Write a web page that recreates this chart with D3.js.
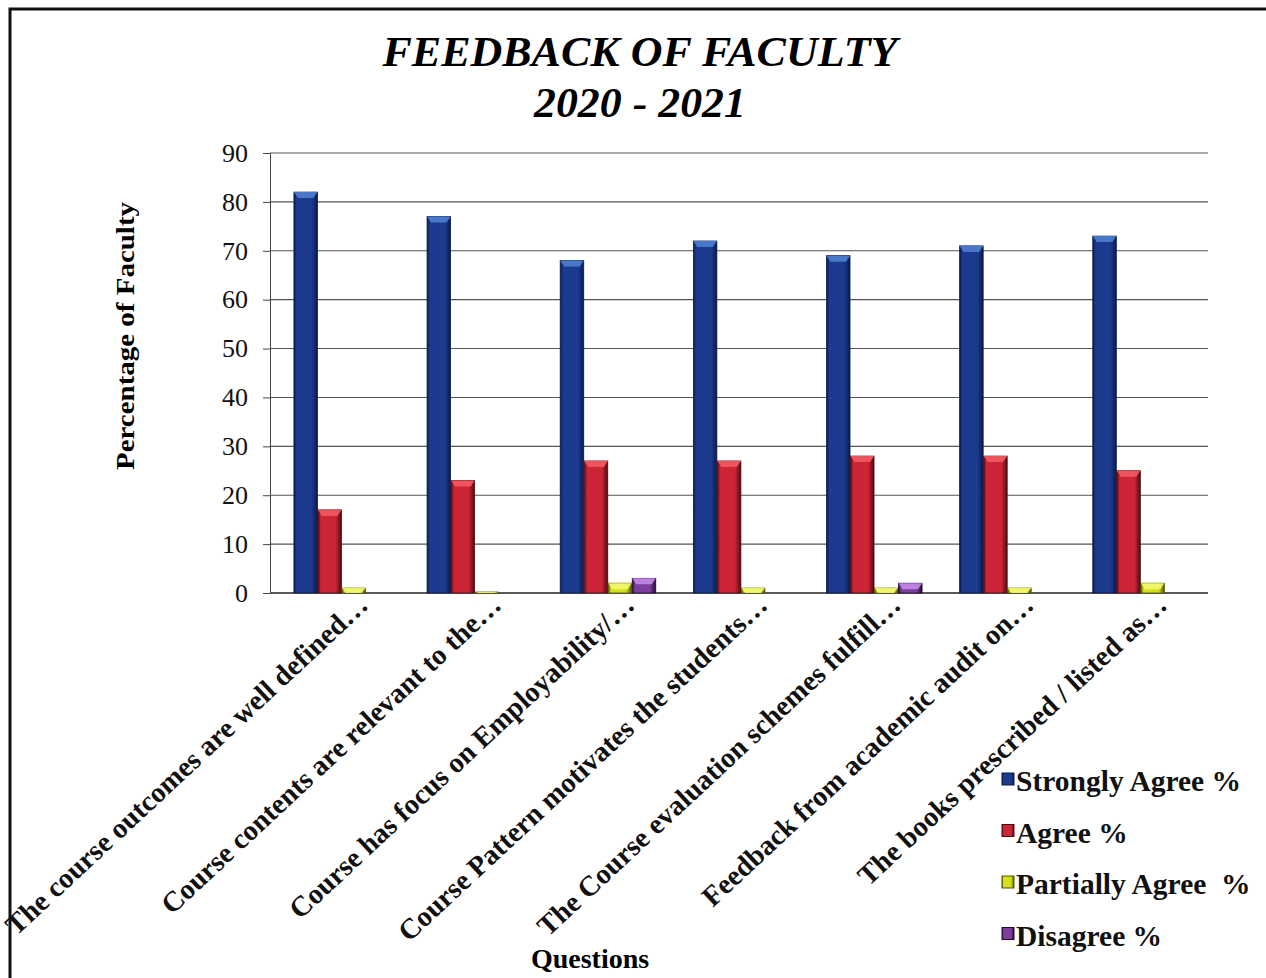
<!DOCTYPE html>
<html>
<head>
<meta charset="utf-8">
<script src="https://cdn.jsdelivr.net/npm/d3@7"></script>
<style>
  body { margin: 0; background: #fff; }
  svg { display: block; font-family: "Liberation Serif", "Times New Roman", serif; }
</style>
</head>
<body>
<svg id="chart" width="1266" height="978"></svg>
<script>
// feedback of faculty, grouped bars

var questions = [
	'The course outcomes are well defined…',
	'Course contents are relevant to the…',
	'Course has focus on Employability/…',
	'Course Pattern motivates the students…',
	'The Course evaluation schemes fulfill…',
	'Feedback from academic audit on…',
	'The books prescribed / listed as…'
];
var seriesNames = ['Strongly Agree %', 'Agree %', 'Partially Agree  %', 'Disagree %'];
var stronglyAgree = [82, 77, 68, 72, 69, 71, 73];
var agree = [17, 23, 27, 27, 28, 28, 25];
var partiallyAgree = [1, 0.2, 2, 1, 1, 1, 2];
var disagree = [0, 0, 3, 0, 2, 0, 0];
var yTicks = [0, 10, 20, 30, 40, 50, 60, 70, 80, 90];

var colors = ['#1c3b8e', '#cc2535', '#d4e01c', '#7e3e9e'];
var lights = ['#4f7fd0', '#f25a60', '#f2f870', '#c488e6'];
var darks = ['#0a1a4a', '#4e0a12', '#4e5406', '#240a34'];

var svg = d3.select('#chart');
var pad = {left: 270, right: 1208, top: 153, bottom: 593};

var series = [stronglyAgree, agree, partiallyAgree, disagree];

// frame
svg.append('rect').attr('x', 10).attr('y', 9).attr('width', 1262).attr('height', 975)
	.attr('fill', 'none').attr('stroke', '#111').attr('stroke-width', 3);

// gradients to give the bars a bit of depth
var defs = svg.append('defs');
colors.forEach(function (c, i) {
	var g = defs.append('linearGradient').attr('id', 'g' + i).attr('x1', 0).attr('x2', 1).attr('y1', 0).attr('y2', 0);
	g.append('stop').attr('offset', '0%').attr('stop-color', darks[i]);
	g.append('stop').attr('offset', '12%').attr('stop-color', c);
	g.append('stop').attr('offset', '75%').attr('stop-color', c);
	g.append('stop').attr('offset', '100%').attr('stop-color', darks[i]);
});

var x0 = d3.scaleBand().domain(questions).range([pad.left, pad.right])
	.paddingInner(0.275).paddingOuter(0.16).align(0.55);
var x1 = d3.scaleBand().domain(d3.range(4)).range([0, x0.bandwidth()]).padding(0.02);
var y = d3.scaleLinear().domain([0, 90]).range([pad.bottom, pad.top]);

// grid
svg.append('g').selectAll('line').data(yTicks).enter().append('line')
	.attr('x1', pad.left).attr('x2', pad.right)
	.attr('y1', function (d) {return y(d);}).attr('y2', function (d) {return y(d);})
	.attr('stroke', function (d) {return d == 0 ? '#222' : '#555';})
	.attr('stroke-width', function (d) {return d == 0 ? 1.6 : 1.1;});

// y axis
var yAxis = d3.axisLeft(y).tickValues(yTicks).tickSize(7).tickPadding(15);
var ya = svg.append('g').attr('transform', 'translate(' + pad.left + ',0)').call(yAxis);
ya.select('.domain').attr('stroke', '#444');
ya.selectAll('.tick line').attr('stroke', '#444');
ya.selectAll('text').attr('font-size', 26).attr('fill', '#111').attr('font-family', '"Liberation Serif", serif');

// bars
var groups = svg.append('g').selectAll('g.grp').data(questions).enter().append('g')
	.attr('class', 'grp')
	.attr('transform', function (d) {return 'translate(' + x0(d) + ',0)';});

var bars = groups.selectAll('g.bar').data(function (d, i) {
	return series.map(function (s, k) {return {k: k, v: s[i]};}).filter(function (e) {return e.v > 0;});
}).enter().append('g').attr('class', 'bar');

bars.append('rect')
	.attr('x', function (d) {return x1(d.k);})
	.attr('width', x1.bandwidth())
	.attr('y', function (d) {return y(d.v);})
	.attr('height', function (d) {return y(0) - y(d.v);})
	.attr('fill', function (d) {return 'url(#g' + d.k + ')';})
	.attr('stroke', function (d) {return darks[d.k];})
	.attr('stroke-width', 0.8);

// bevelled top
bars.append('path')
	.attr('d', function (d) {
		var bx = x1(d.k), bw = x1.bandwidth(), by = y(d.v);
		var h = Math.min(6, y(0) - by);
		return 'M' + bx + ',' + by + 'L' + (bx + bw) + ',' + by + 'L' + (bx + bw - 4) + ',' + (by + h) +
			'L' + (bx + 4) + ',' + (by + h) + 'Z';
	})
	.attr('fill', function (d) {return lights[d.k];})
	.attr('opacity', 0.9);

// category labels
svg.append('g').selectAll('text').data(questions).enter().append('text')
	.attr('transform', function (d) {
		return 'translate(' + (x0(d) + x0.bandwidth() / 2 + 28) + ',' + (pad.bottom + 14) + ') rotate(-43)';
	})
	.attr('text-anchor', 'end')
	.attr('font-size', 28.5).attr('font-weight', 'bold').attr('fill', '#111')
	.text(function (d) {return d;});

// titles
svg.append('text').attr('x', 640).attr('y', 66).attr('text-anchor', 'middle')
	.attr('font-size', 42).attr('font-weight', 'bold').attr('font-style', 'italic')
	.attr('textLength', 515).attr('lengthAdjust', 'spacingAndGlyphs')
	.text('FEEDBACK OF FACULTY');
svg.append('text').attr('x', 640).attr('y', 117).attr('text-anchor', 'middle')
	.attr('font-size', 42).attr('font-weight', 'bold').attr('font-style', 'italic')
	.attr('textLength', 212).attr('lengthAdjust', 'spacingAndGlyphs')
	.text('2020 - 2021');

svg.append('text').attr('transform', 'translate(134,336) rotate(-90)')
	.attr('text-anchor', 'middle').attr('font-size', 26).attr('font-weight', 'bold')
	.attr('textLength', 268).attr('lengthAdjust', 'spacingAndGlyphs')
	.text('Percentage of Faculty');

svg.append('text').attr('x', 590).attr('y', 968).attr('text-anchor', 'middle')
	.attr('font-size', 28).attr('font-weight', 'bold')
	.text('Questions');

// legend
var leg = svg.append('g').selectAll('g').data(seriesNames).enter().append('g')
	.attr('transform', function (d, i) {return 'translate(1002,' + (782 + i * 51.5) + ')';});
leg.append('rect').attr('x', 0).attr('y', -9).attr('width', 12).attr('height', 12)
	.attr('fill', function (d, i) {return 'url(#g' + i + ')';})
	.attr('stroke', function (d, i) {return darks[i];}).attr('stroke-width', 1);
leg.append('text').attr('x', 14).attr('y', 9).attr('font-size', 29.5).attr('font-weight', 'bold')
	.attr('fill', '#111')
	.attr('xml:space', 'preserve').style('white-space', 'pre')
	.text(function (d) {return d;});
</script>
</body>
</html>
